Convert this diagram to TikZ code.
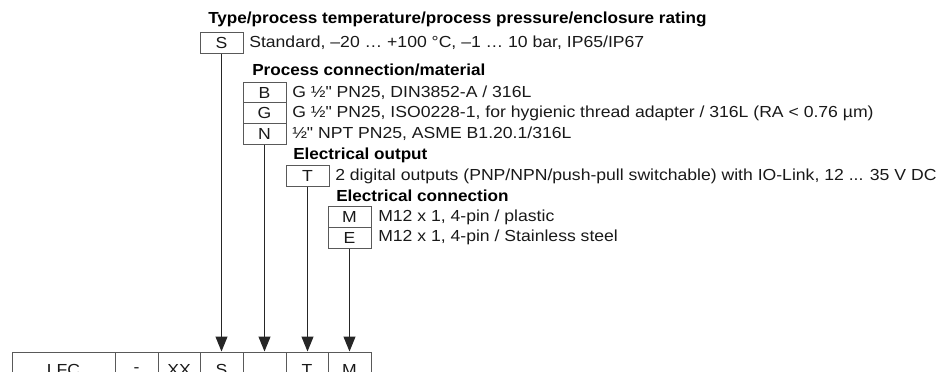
\documentclass[tikz,border=0pt]{standalone}
\usepackage{fontspec}
\setmainfont{Liberation Sans}
\newfontfamily\bodyf{Liberation Sans}[FakeStretch=1.10]
\newfontfamily\headf{Liberation Sans Bold}[FakeStretch=1.07]
\usetikzlibrary{arrows.meta}
\begin{document}
\begin{tikzpicture}[x=0.75pt,y=-0.75pt,
  codebox/.style={draw=black!65, line width=0.75pt, minimum width=32.25pt, minimum height=15.5pt, inner sep=0pt, font=\bodyf\fontsize{12pt}{14pt}\selectfont, text=black!90},
  cell/.style={draw=black!65, line width=0.75pt, minimum height=27pt, inner sep=0pt, font=\bodyf\fontsize{12pt}{14pt}\selectfont, text=black!90},
  desc/.style={anchor=west, inner sep=0pt, font=\bodyf\fontsize{12pt}{14pt}\selectfont, text=black!90},
  head/.style={anchor=west, inner sep=0pt, font=\headf\fontsize{12pt}{14pt}\selectfont, text=black},
  conn/.style={line width=0.75pt, black!85, -{Triangle[length=11.25pt, width=9pt]}}
]
\useasboundingbox (0,0) rectangle (941,371);

\node[head] (h1) at (208,19) {Type/process temperature/process pressure/enclosure rating};
\node[codebox] (S) at (221.5,43) {S};
\node[desc] (dS) at (249,43) {Standard, –20 … +100 °C, –1 … 10 bar, IP65/IP67};

\node[head] (h2) at (252,70) {Process connection/material};
\node[codebox] (B) at (264.5,92.5) {B};
\node[codebox] (G) at (264.5,113.2) {G};
\node[codebox] (N) at (264.5,133.9) {N};
\node[desc] (dB) at (292,92.5) {G ½" PN25, DIN3852-A / 316L};
\node[desc] (dG) at (292,113.2) {G ½" PN25, ISO0228-1, for hygienic thread adapter / 316L (RA < 0.76 µm)};
\node[desc] (dN) at (292,133.9) {½" NPT PN25, ASME B1.20.1/316L};

\node[head] (h3) at (293,155) {Electrical output};
\node[codebox] (T) at (307.5,176) {T};
\node[desc] (dT) at (335,176) {2 digital outputs (PNP/NPN/push-pull switchable) with IO-Link, 12 ... 35 V DC};

\node[head] (h4) at (336,196) {Electrical connection};
\node[codebox] (M) at (349.5,217) {M};
\node[codebox] (E) at (349.5,237.7) {E};
\node[desc] (dM) at (378,217) {M12 x 1, 4-pin / plastic};
\node[desc] (dE) at (378,237.7) {M12 x 1, 4-pin / Stainless steel};

% bottom type code row
\node[cell, minimum width=77.25pt] (cL) at (63.5,370) {LFC};
\node[cell, minimum width=32.25pt] (cD) at (136.5,370) {-};
\node[cell, minimum width=31.5pt] (cX) at (179,370) {XX};
\node[cell, minimum width=32.25pt] (cS) at (221.5,370) {S};
\node[cell, minimum width=32.25pt] (cB) at (264.5,370) {};
\node[cell, minimum width=31.5pt] (cT) at (307,370) {T};
\node[cell, minimum width=32.25pt] (cM) at (349.5,370) {M};

\draw[conn] (S.south) -- (cS.north);
\draw[conn] (N.south) -- (cB.north);
\draw[conn] (T.south) -- (T.south |- cT.north);
\draw[conn] (E.south) -- (cM.north);
\end{tikzpicture}
\end{document}
